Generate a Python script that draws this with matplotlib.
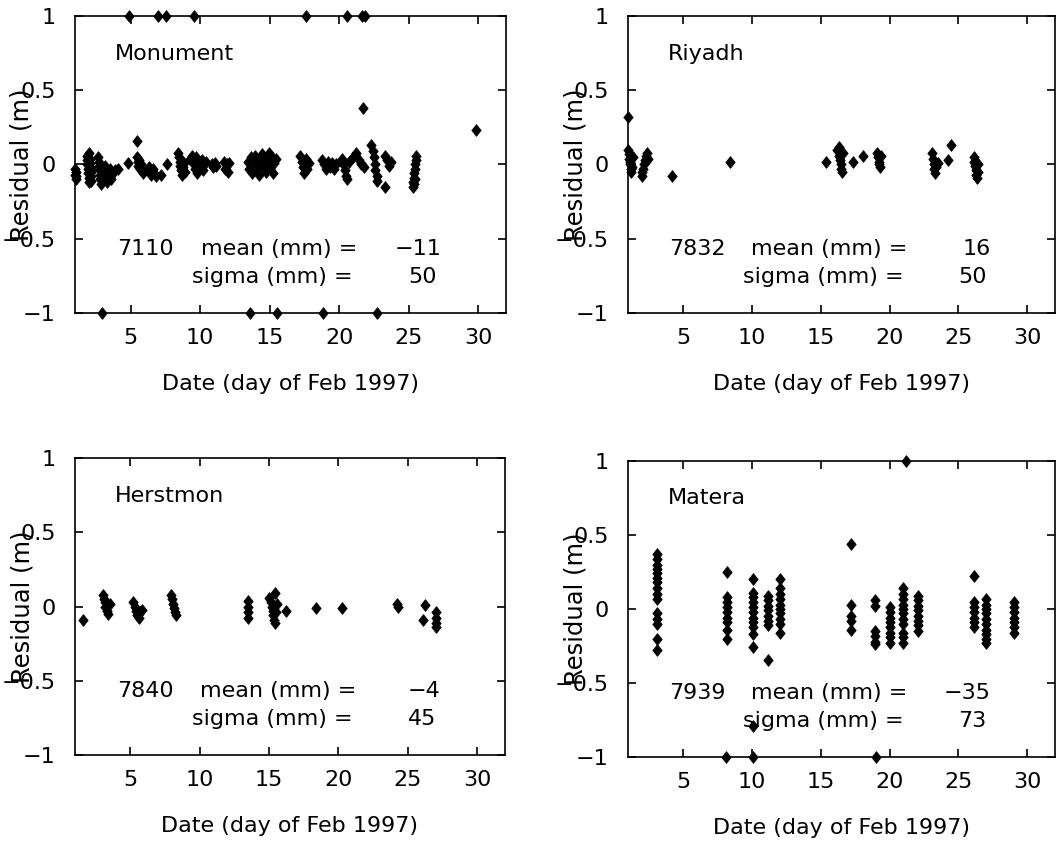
import matplotlib
matplotlib.use("Agg")
import matplotlib.pyplot as plt
from matplotlib.path import Path

# ---------------- data ----------------
stations = ["Monument", "Riyadh", "Herstmon", "Matera"]
station_ids = ["7110", "7832", "7840", "7939"]
mean_mm = ["\u221211", "16", "\u22124", "\u221235"]
sigma_mm = ["50", "50", "45", "73"]

x_ticks = [5, 10, 15, 20, 25, 30]
y_ticks = [-1, -0.5, 0, 0.5, 1]
y_tick_labels = ["\u22121", "\u22120.5", "0", "0.5", "1"]
x_label = "Date (day of Feb 1997)"
y_label = "Residual (m)"

mon_days = [1.00, 1.02, 1.05, 1.08, 1.10,
            1.85, 1.88, 1.90, 1.93, 1.95, 1.98, 2.00, 2.03, 2.05, 2.08, 2.10, 2.12, 2.15, 2.18, 2.20,
            2.68, 2.71, 2.74, 2.77, 2.80, 2.83, 2.86, 2.90, 2.93,
            3.15, 3.20, 3.25, 3.30, 3.40, 3.50, 3.60, 3.70, 3.85,
            4.11, 4.83, 5.43,
            5.45, 5.50, 5.55, 5.60, 5.65, 5.72, 5.80, 5.90,
            6.30, 6.40, 6.50, 6.60, 6.70, 6.85, 7.20, 7.59,
            8.42, 8.47, 8.52, 8.57, 8.62, 8.67, 8.75, 8.82, 8.90,
            9.30, 9.40, 9.50, 9.60, 9.70, 9.80, 9.90, 10.00, 10.10, 10.20, 10.30, 10.45,
            10.85, 10.95, 11.05, 11.15,
            11.70, 11.80, 11.90, 12.00, 12.10,
            13.45, 13.55, 13.65, 13.75, 13.85, 13.95, 14.05, 14.15, 14.25, 14.35, 14.45,
            14.55, 14.65, 14.75, 14.85, 14.95, 15.05, 15.15, 15.25, 15.35, 15.45,
            17.20, 17.30, 17.40, 17.50, 17.60, 17.70, 17.85,
            18.75, 18.90, 19.05, 19.20, 19.35, 19.50, 19.65, 19.80,
            20.20, 20.30, 20.40, 20.50, 20.60, 20.70,
            21.00, 21.20, 21.40, 21.60, 21.80, 21.71,
            22.30, 22.40, 22.50, 22.55, 22.60, 22.70, 22.75, 23.27,
            23.30, 23.45, 23.60, 23.75,
            25.30, 25.33, 25.36, 25.40, 25.43, 25.47, 25.50, 25.53, 25.45, 25.38,
            29.86,
            4.88, 6.99, 7.54, 9.57, 17.60, 20.57, 21.67, 21.85,
            2.92, 13.57, 15.56, 18.84, 22.72]
mon_res = [-0.03, -0.07, -0.10, -0.05, -0.08,
           0.06, 0.03, 0.00, -0.03, -0.06, -0.09, -0.12, 0.08, 0.04, 0.01, -0.02, -0.05, -0.08, -0.11, -0.04,
           0.05, 0.02, -0.01, -0.04, -0.07, -0.10, -0.13, -0.09, -0.05,
           -0.01, -0.05, -0.09, -0.12, -0.07, -0.03, -0.10, -0.06, -0.04,
           -0.03, 0.01, 0.16,
           0.05, 0.02, -0.01, 0.03, -0.03, 0.00, -0.04, -0.06,
           -0.02, -0.05, -0.07, -0.03, -0.06, -0.08, -0.07, 0.00,
           0.08, 0.05, 0.02, -0.01, -0.04, -0.07, -0.02, 0.01, -0.05,
           0.04, 0.06, 0.01, -0.03, 0.05, -0.06, 0.02, -0.02, 0.03, -0.04, 0.00, 0.02,
           0.00, -0.02, 0.01, -0.01,
           0.02, -0.03, 0.00, -0.05, 0.01,
           0.02, -0.03, 0.05, -0.06, 0.01, 0.06, -0.04, 0.03, -0.07, 0.00, 0.07,
           -0.02, 0.04, -0.05, 0.02, 0.08, -0.03, 0.05, -0.06, 0.01, 0.04,
           0.06, 0.02, -0.02, -0.06, 0.04, -0.03, 0.01,
           0.03, 0.00, -0.03, 0.02, -0.02, 0.01, -0.03, 0.00,
           0.04, 0.00, -0.04, -0.08, -0.10, 0.02,
           0.05, 0.08, 0.03, 0.00, -0.02, 0.38,
           0.13, 0.09, 0.05, 0.00, -0.04, -0.08, -0.11, -0.15,
           0.06, 0.03, -0.01, 0.02,
           -0.15, -0.12, -0.09, -0.06, -0.03, 0.00, 0.03, 0.06, -0.10, -0.13,
           0.23,
           1, 1, 1, 1, 1, 1, 1, 1,
           -1, -1, -1, -1, -1]

riy_days = [1.02,
            1.02, 1.05, 1.08, 1.12, 1.15, 1.20, 1.25, 1.30, 1.35,
            2.00, 2.05, 2.10, 2.15, 2.20, 2.30, 2.40, 2.45,
            4.22, 8.41, 15.36,
            16.20, 16.30, 16.40, 16.45, 16.50, 16.55, 16.60, 16.35,
            17.37, 18.09,
            19.10, 19.15, 19.20, 19.25, 19.30, 19.35,
            23.10, 23.15, 23.20, 23.25, 23.30, 23.40, 23.50,
            24.27, 24.46,
            26.10, 26.15, 26.20, 26.25, 26.30, 26.35, 26.40, 26.45]
riy_res = [0.32,
           0.10, 0.07, 0.04, 0.02, 0.00, -0.03, -0.05, -0.02, 0.05,
           -0.05, -0.08, -0.03, 0.00, 0.03, 0.06, 0.08, 0.04,
           -0.08, 0.02, 0.02,
           0.10, 0.06, 0.03, 0.00, -0.03, -0.05, 0.08, 0.12,
           0.02, 0.06,
           0.08, 0.05, 0.02, 0.00, -0.02, 0.06,
           0.08, 0.04, 0.00, -0.03, -0.06, -0.02, 0.01,
           0.03, 0.13,
           0.05, 0.02, -0.01, -0.04, -0.07, -0.09, 0.00, -0.05]

her_days = [1.55,
            3.05, 3.10, 3.15, 3.20, 3.30, 3.40, 3.50,
            5.20, 5.30, 5.40, 5.50, 5.60, 5.70, 5.80,
            7.95, 8.00, 8.10, 8.15, 8.20, 8.30,
            13.45, 13.47, 13.50, 13.48,
            15.00, 15.10, 15.20, 15.25, 15.30, 15.35, 15.40, 15.45, 15.50, 15.60,
            16.23, 18.39, 20.26,
            24.20, 24.30,
            26.23, 26.10,
            27.00, 27.02, 27.04, 27.00]
her_res = [-0.09,
           0.08, 0.05, 0.03, 0.00, -0.03, -0.05, 0.02,
           0.03, 0.00, -0.03, -0.06, -0.08, -0.04, -0.02,
           0.08, 0.05, 0.02, -0.01, -0.04, -0.06,
           0.04, 0.00, -0.04, -0.08,
           0.06, 0.03, 0.00, -0.03, -0.06, -0.09, -0.11, 0.09, -0.04, 0.02,
           -0.03, -0.01, -0.01,
           0.02, 0.00,
           0.01, -0.09,
           -0.04, -0.08, -0.11, -0.14]

mat_days = [3.13] * 15 + [8.17] * 9 + [10.06] * 11 + [11.15] * 8 + [12.04] * 10 \
           + [17.20] * 5 + [18.94] * 6 + [20.03] * 8 + [21.00] * 11 + [22.09] * 8 \
           + [26.16] * 7 + [27.00] * 10 + [29.06] * 7 \
           + [10.10, 21.20, 8.12, 10.10, 19.00]
mat_res = [0.37, 0.34, 0.30, 0.27, 0.24, 0.21, 0.18, 0.14, 0.10, 0.07, -0.03, -0.07, -0.10, -0.20, -0.28,
           0.25, 0.08, 0.045, 0.01, -0.02, -0.06, -0.09, -0.14, -0.20,
           0.20, 0.11, 0.08, 0.045, 0.01, -0.02, -0.06, -0.09, -0.12, -0.17, -0.26,
           0.09, 0.06, 0.02, -0.01, -0.045, -0.08, -0.11, -0.345,
           0.20, 0.14, 0.10, 0.07, 0.03, 0.00, -0.03, -0.07, -0.10, -0.16,
           0.44, 0.03, -0.045, -0.08, -0.14,
           0.06, 0.02, -0.15, -0.18, -0.22, -0.24,
           0.01, -0.02, -0.06, -0.09, -0.12, -0.16, -0.19, -0.23,
           0.14, 0.10, 0.07, 0.03, 0.00, -0.03, -0.07, -0.10, -0.16, -0.19, -0.23,
           0.09, 0.06, 0.02, -0.01, -0.045, -0.08, -0.11, -0.15,
           0.22, 0.045, 0.01, -0.02, -0.06, -0.09, -0.12,
           0.07, 0.03, 0.00, -0.03, -0.07, -0.10, -0.14, -0.17, -0.20, -0.23,
           0.045, 0.01, -0.02, -0.06, -0.09, -0.12, -0.16,
           -0.79, 1, -1, -1, -1]

all_days = [mon_days, riy_days, her_days, mat_days]
all_res = [mon_res, riy_res, her_res, mat_res]

# ---------------- figure ----------------
plt.rcParams["font.family"] = ["DejaVu Sans"]
FS = 16
W, H = 1059, 847
fig = plt.figure(figsize=(W / 100, H / 100), dpi=100)

rects = [[0.0708, 0.6305, 0.407, 0.3506],
         [0.593, 0.6305, 0.403, 0.3506],
         [0.0708, 0.1086, 0.406, 0.3506],
         [0.593, 0.1063, 0.403, 0.3495]]

diamond = Path([(0, 1), (0.8, 0), (0, -1), (-0.8, 0), (0, 1)],
               [Path.MOVETO, Path.LINETO, Path.LINETO, Path.LINETO, Path.CLOSEPOLY])

for i, rect in enumerate(rects):
    ax = fig.add_axes(rect)
    ax.plot(all_days[i], all_res[i], linestyle="none", marker=diamond,
            markersize=8.5, color="black", markeredgewidth=0.5, clip_on=False, zorder=3)
    ax.set_xlim(1, 32)
    ax.set_ylim(-1, 1)
    ax.set_xticks(x_ticks)
    ax.set_xticklabels([str(t) for t in x_ticks])
    ax.set_yticks(y_ticks)
    ax.set_yticklabels(y_tick_labels)
    ax.tick_params(axis="both", direction="in", top=True, right=True,
                   length=6, width=1.2, labelsize=FS)
    ax.tick_params(axis="x", pad=11)
    ax.tick_params(axis="y", pad=14)
    for s in ax.spines.values():
        s.set_linewidth(1.2)

    ax.text(0.093, 0.853, stations[i], transform=ax.transAxes, fontsize=FS,
            ha="left", va="baseline")
    ax.text(0.097, 0.195, station_ids[i], transform=ax.transAxes, fontsize=FS,
            ha="left", va="baseline")
    ax.text(0.655, 0.195, "mean (mm) =", transform=ax.transAxes, fontsize=FS,
            ha="right", va="baseline")
    ax.text(0.85, 0.195, mean_mm[i], transform=ax.transAxes, fontsize=FS,
            ha="right", va="baseline")
    ax.text(0.645, 0.101, "sigma (mm) =", transform=ax.transAxes, fontsize=FS,
            ha="right", va="baseline")
    ax.text(0.84, 0.101, sigma_mm[i], transform=ax.transAxes, fontsize=FS,
            ha="right", va="baseline")

    ax.text(0.5, -0.24, x_label, transform=ax.transAxes, fontsize=FS,
            ha="center", va="center")
    ax.text(-53 / 431, 0.5, y_label, transform=ax.transAxes, fontsize=17.5,
            ha="center", va="center", rotation=90)

fig.savefig("out.png", dpi=100, facecolor="white")
